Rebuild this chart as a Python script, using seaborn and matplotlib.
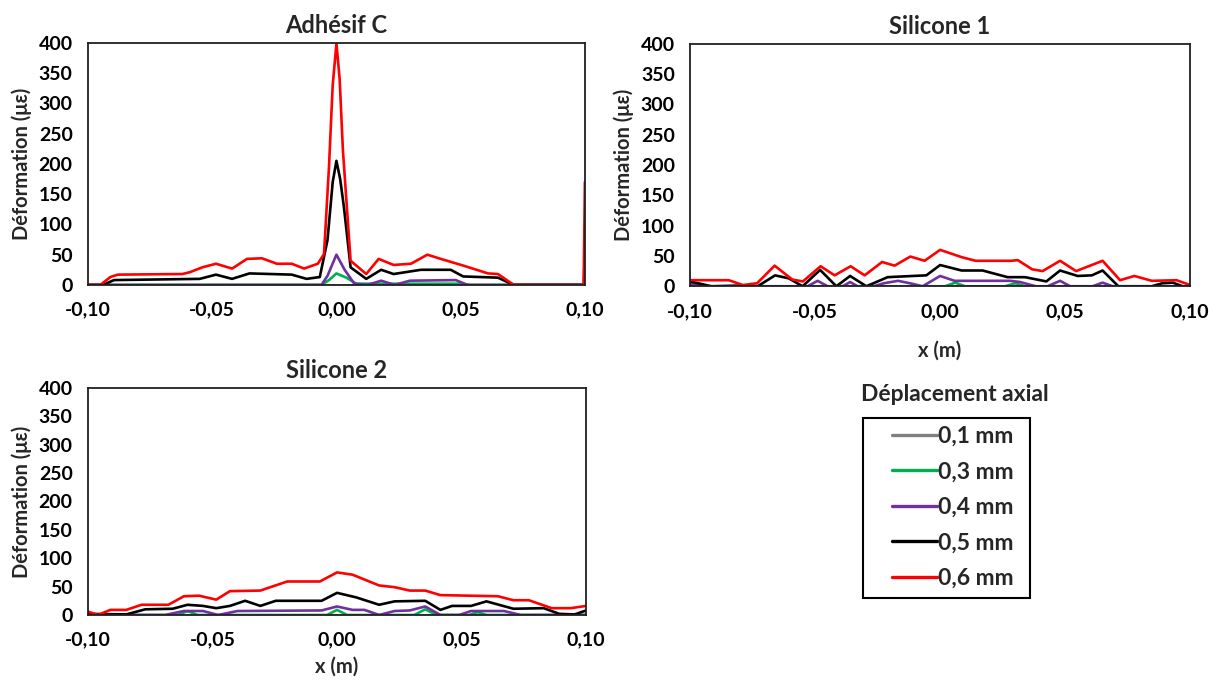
import numpy as np
import pandas as pd
import seaborn as sns
import matplotlib.pyplot as plt
from matplotlib.lines import Line2D
from matplotlib.patches import Rectangle

# --- data (x in m, strain in micro-strain) ---
labels = ["0,1 mm", "0,3 mm", "0,4 mm", "0,5 mm", "0,6 mm"]
colors = ["#808080", "#00B050", "#7030A0", "#000000", "#FF0000"]

x_ticks = [-0.10, -0.05, 0.00, 0.05, 0.10]
x_tick_labels = ["-0,10", "-0,05", "0,00", "0,05", "0,10"]
y_ticks = [0, 50, 100, 150, 200, 250, 300, 350, 400]

# Adhésif C
adh_x_01 = [-0.100, 0.100]
adh_y_01 = [0, 0]
adh_x_03 = [-0.100, -0.006, -0.003, 0.000, 0.004, 0.008, 0.050, 0.054, 0.100]
adh_y_03 = [0, 0, 8, 19, 12, 2, 2, 0, 0]
adh_x_04 = [-0.100, -0.006, -0.0036, 0.000, 0.0033, 0.0072, 0.0126, 0.018, 0.0234,
            0.0296, 0.048, 0.0528, 0.0995, 0.100]
adh_y_04 = [0, 0, 15, 50, 25, 2, 0, 7, 0, 7, 8, 0, 0, 55]
adh_x_05 = [-0.100, -0.094, -0.0895, -0.055, -0.0485, -0.042, -0.035, -0.018, -0.012,
            -0.0067, -0.0036, -0.0015, 0.000, 0.0015, 0.003, 0.0057, 0.012, 0.018,
            0.023, 0.034, 0.046, 0.051, 0.065, 0.0714, 0.100]
adh_y_05 = [0, 0, 8, 10, 17, 10, 19, 17, 10, 13, 74, 170, 205, 175, 129, 29, 10, 25,
            18, 25, 25, 14, 12, 0, 0]
adh_x_06 = [-0.100, -0.095, -0.091, -0.088, -0.062, -0.059, -0.054, -0.0485, -0.042,
            -0.036, -0.030, -0.024, -0.018, -0.013, -0.0075, -0.005, -0.003, -0.0015,
            0.000, 0.0013, 0.0026, 0.0057, 0.012, 0.017, 0.023, 0.030, 0.0366, 0.042,
            0.051, 0.061, 0.065, 0.0714, 0.0995, 0.100]
adh_y_06 = [0, 0, 13, 17, 18, 21, 29, 35, 27, 43, 44, 35, 35, 27, 35, 51, 195, 330,
            399, 340, 223, 40, 18, 43, 33, 35, 50, 43, 32, 19, 18, 0, 0, 170]

# Silicone 1
s1_x_01 = [-0.100, 0.100]
s1_y_01 = [0, 0]
s1_x_03 = [-0.100, 0.002, 0.006, 0.010, 0.026, 0.030, 0.034, 0.100]
s1_y_03 = [0, 0, 6, 0, 0, 5, 0, 0]
s1_x_04 = [-0.100, -0.0958, -0.053, -0.049, -0.045, -0.039, -0.036, -0.033, -0.0265,
           -0.0225, -0.0168, -0.011, -0.007, 0.000, 0.0058, 0.028, 0.032, 0.0383,
           0.043, 0.048, 0.052, 0.061, 0.065, 0.069, 0.100]
s1_y_04 = [5, 0, 0, 9, 0, 0, 7, 0, 0, 5, 9, 4, 0, 17, 9, 9, 7, 0, 0, 9, 0, 0, 6, 0, 0]
s1_x_05 = [-0.100, -0.0915, -0.0817, -0.073, -0.066, -0.0605, -0.055, -0.048, -0.0415,
           -0.036, -0.0295, -0.021, -0.011, -0.0055, 0.000, 0.0086, 0.017, 0.027,
           0.034, 0.0425, 0.048, 0.055, 0.0607, 0.065, 0.0713, 0.0847, 0.0889, 0.0931,
           0.097, 0.100]
s1_y_05 = [8, 0, 1, 0, 18, 13, 0, 27, 0, 17, 0, 15, 17, 18, 35, 26, 26, 15, 15, 8, 26,
           17, 18, 26, 0, 0, 5, 6, 0, 0]
s1_x_06 = [-0.100, -0.0845, -0.0789, -0.0732, -0.0662, -0.0591, -0.0549, -0.0478,
           -0.0422, -0.0358, -0.0302, -0.0232, -0.0182, -0.0119, -0.0062, 0.000,
           0.0086, 0.0142, 0.0283, 0.0311, 0.0368, 0.041, 0.048, 0.0544, 0.065,
           0.072, 0.0777, 0.0847, 0.0946, 0.100]
s1_y_06 = [10, 10, 2, 5, 34, 11, 8, 33, 18, 33, 18, 40, 34, 49, 42, 60, 48, 42, 42, 43,
           28, 25, 42, 25, 42, 10, 17, 9, 10, 2]

# Silicone 2
s2_x_01 = [-0.100, 0.100]
s2_y_01 = [0, 0]
s2_x_03 = [-0.100, -0.064, -0.060, -0.056, -0.004, 0.000, 0.004, 0.031, 0.0354, 0.040,
           0.053, 0.0565, 0.060, 0.100]
s2_y_03 = [0, 0, 7, 0, 0, 9, 0, 0, 10, 0, 0, 5, 0, 0]
s2_x_04 = [-0.100, -0.069, -0.0615, -0.0538, -0.0477, -0.040, -0.0062, 0.000, 0.0062,
           0.011, 0.0169, 0.0231, 0.0292, 0.0354, 0.0415, 0.049, 0.0538, 0.067,
           0.0738, 0.100]
s2_y_04 = [0, 0, 7, 7, 0, 7, 8, 15, 9, 9, 0, 7, 8, 15, 0, 0, 7, 7, 0, 0]
s2_x_05 = [-0.100, -0.0846, -0.077, -0.066, -0.060, -0.0538, -0.0485, -0.043, -0.0369,
           -0.0308, -0.0246, -0.0062, 0.000, 0.0077, 0.0169, 0.0231, 0.0354, 0.0415,
           0.0462, 0.0538, 0.060, 0.0708, 0.083, 0.0892, 0.0954, 0.100]
s2_y_05 = [2, 1, 10, 11, 18, 16, 12, 16, 25, 16, 25, 25, 39, 31, 18, 24, 25, 9, 16, 16,
           24, 11, 12, 2, 1, 8]
s2_x_06 = [-0.100, -0.096, -0.091, -0.0846, -0.0785, -0.0677, -0.0615, -0.0554, -0.0485,
           -0.043, -0.0308, -0.020, -0.0069, 0.000, 0.0062, 0.0169, 0.0231, 0.0292,
           0.0354, 0.0415, 0.0646, 0.0708, 0.077, 0.0862, 0.0938, 0.100]
s2_y_06 = [6, 0, 9, 9, 18, 18, 33, 34, 27, 42, 43, 59, 59, 75, 71, 52, 49, 43, 43, 35,
           33, 26, 26, 12, 12, 16]

# title, axes rect, x-label pad (None = no x label), series
panels = [
    ("Adhésif C", [0.0724, 0.581, 0.409, 0.356], None,
     [(adh_x_01, adh_y_01), (adh_x_03, adh_y_03), (adh_x_04, adh_y_04),
      (adh_x_05, adh_y_05), (adh_x_06, adh_y_06)]),
    ("Silicone 1", [0.568, 0.579, 0.4115, 0.357], 15,
     [(s1_x_01, s1_y_01), (s1_x_03, s1_y_03), (s1_x_04, s1_y_04),
      (s1_x_05, s1_y_05), (s1_x_06, s1_y_06)]),
    ("Silicone 2", [0.0724, 0.0956, 0.41, 0.334], 6,
     [(s2_x_01, s2_y_01), (s2_x_03, s2_y_03), (s2_x_04, s2_y_04),
      (s2_x_05, s2_y_05), (s2_x_06, s2_y_06)]),
]

sns.set_style("white")
plt.rcParams['font.family'] = ['Lato', 'DejaVu Sans']
plt.rcParams['font.weight'] = 'bold'

fig = plt.figure(figsize=(12.15, 6.8), dpi=100)

for title, rect, xpad, series in panels:
    ax = fig.add_axes(rect)
    for (xs, ys), lab, col in zip(series, labels, colors):
        df = pd.DataFrame({"x": xs, "y": ys})
        sns.lineplot(data=df, x="x", y="y", ax=ax, color=col, linewidth=1.9,
                     sort=False, estimator=None, solid_joinstyle='round')
    ax.set_xlim(-0.10, 0.10)
    ax.set_ylim(0, 400)
    ax.set_xticks(x_ticks)
    ax.set_xticklabels(x_tick_labels)
    ax.set_yticks(y_ticks)
    ax.tick_params(direction='in', length=4, width=1, colors='#404040',
                   labelcolor='black', labelsize=14)
    ax.tick_params(axis='x', pad=12)
    ax.tick_params(axis='y', pad=11)
    for t in ax.get_xticklabels() + ax.get_yticklabels():
        t.set_fontweight('bold')
    for s in ax.spines.values():
        s.set_color('#202020')
        s.set_linewidth(1.3)
    ax.set_title(title, fontsize=17, fontweight='bold', pad=7)
    ax.set_ylabel("Déformation (με)", fontsize=14.5, fontweight='bold', labelpad=5)
    if xpad is not None:
        ax.set_xlabel("x (m)", fontsize=14.5, fontweight='bold', labelpad=xpad)
    else:
        ax.set_xlabel("")

# legend: title above a hand-placed frame, entries inside it
fig.text(955 / 1215, 1 - 394 / 680, "Déplacement axial", ha='center', va='center',
         fontsize=16.5, fontweight='bold')
fig.patches.append(Rectangle((863 / 1215, 1 - 598 / 680), 167 / 1215, 180 / 680,
                             transform=fig.transFigure, fill=False,
                             edgecolor='black', linewidth=1.5))
handles = [Line2D([0], [0], color=c, linewidth=2.4) for c in colors]
leg = fig.legend(handles, labels, loc='upper left',
                 bbox_to_anchor=(892 / 1215, 1 - 426 / 680),
                 frameon=False, handlelength=1.95, handletextpad=0.05,
                 labelspacing=0.63, borderpad=0, borderaxespad=0,
                 prop={'weight': 'bold', 'size': 16.5})

fig.savefig("out.png", dpi=100)
